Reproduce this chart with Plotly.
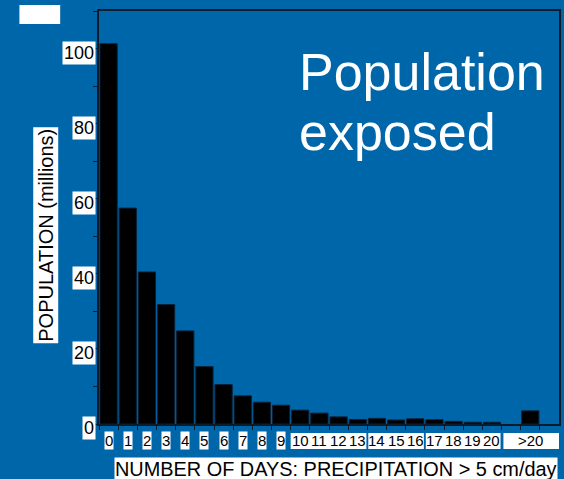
import plotly.graph_objects as go

# Days with precipitation above 5 cm/day, and population exposed (millions)
day_positions = list(range(21)) + [22]
day_labels = [str(d) for d in range(21)] + [">20"]
population_millions = [101.3, 57.5, 40.5, 31.8, 24.8, 15.3, 10.5, 7.5, 5.8, 5.0,
                       3.7, 2.9, 1.9, 1.2, 1.5, 1.07, 1.4, 1.15, 0.7, 0.45, 0.45, 3.5]
y_label_values = [0, 20, 40, 60, 80, 100]

BG = "#0066AA"
DARK = "#0d1b2a"
FONT = "Liberation Sans, Arial, sans-serif"

fig = go.Figure()
fig.add_trace(go.Bar(
    x=day_positions, y=population_millions, width=0.9,
    marker=dict(color="black", line=dict(color="#06223a", width=1)),
    hoverinfo="x+y",
))

annotations = []
shapes = []

# y tick labels on white patches
for v in y_label_values:
    annotations.append(dict(
        x=-0.006, xref="paper", xanchor="right", y=v, yref="y", yanchor="middle",
        yshift=-4, text=str(v), showarrow=False, bgcolor="white", borderpad=1,
        font=dict(family=FONT, size=18, color="black")))

# x tick labels: 0-9 on individual patches, the rest on grouped patches
groups = [(9.5, 13.45), (13.55, 16.45), (16.55, 20.45), (20.6, 23.6)]
for x0, x1 in groups:
    shapes.append(dict(type="rect", xref="x", yref="paper", x0=x0, x1=x1,
                       y0=-0.0605, y1=-0.0218, fillcolor="white", line_width=0,
                       layer="below"))
for pos, lab in zip(day_positions, day_labels):
    annotations.append(dict(
        x=pos, xref="x", xanchor="center", y=-0.041, yref="paper", yanchor="middle",
        text=lab, showarrow=False, bgcolor="white" if pos < 10 else None, borderpad=0,
        font=dict(family=FONT, size=15, color="black")))

# axis titles
annotations.append(dict(
    x=-0.1158, xref="paper", xanchor="center", y=0.4576, yref="paper", yanchor="middle",
    textangle=-90, text="POPULATION (millions)", showarrow=False,
    bgcolor="white", borderpad=1, font=dict(family=FONT, size=20, color="black")))
annotations.append(dict(
    x=0.5155, xref="paper", y=-0.109, yref="paper", xanchor="center", yanchor="middle",
    text="NUMBER OF DAYS: PRECIPITATION > 5 cm/day", showarrow=False,
    bgcolor="white", borderpad=0, font=dict(family=FONT, size=19.9, color="black")))

# headline
for txt, yy in [("Population", 0.852), ("exposed", 0.707)]:
    annotations.append(dict(
        x=0.431, xref="paper", xanchor="left", y=yy, yref="paper", yanchor="middle",
        text=txt, showarrow=False, font=dict(family=FONT, size=52, color="white")))

# small white block at the top left
shapes.append(dict(type="rect", xref="paper", yref="paper", x0=-0.173, x1=-0.0844,
                   y0=0.9685, y1=1.0145, fillcolor="white", line_width=0))

fig.update_layout(
    width=564, height=479,
    margin=dict(l=99, r=3, t=11, b=55),
    paper_bgcolor=BG, plot_bgcolor=BG,
    showlegend=False,
    annotations=annotations, shapes=shapes,
    xaxis=dict(range=[-0.5, 23.5], showgrid=False, zeroline=False,
               showline=True, mirror=True, linecolor=DARK, linewidth=1.5,
               tickmode="array", tickvals=[i + 0.5 for i in range(-1, 23)],
               ticktext=[""] * 24, ticks="outside", ticklen=4, tickcolor=DARK),
    yaxis=dict(range=[0, 110], showgrid=False, zeroline=False,
               showline=True, mirror=True, linecolor=DARK, linewidth=1.5,
               tickmode="linear", tick0=0, dtick=10, showticklabels=False,
               ticks="outside", ticklen=4, tickcolor=DARK),
)

fig.write_html("out.html")
